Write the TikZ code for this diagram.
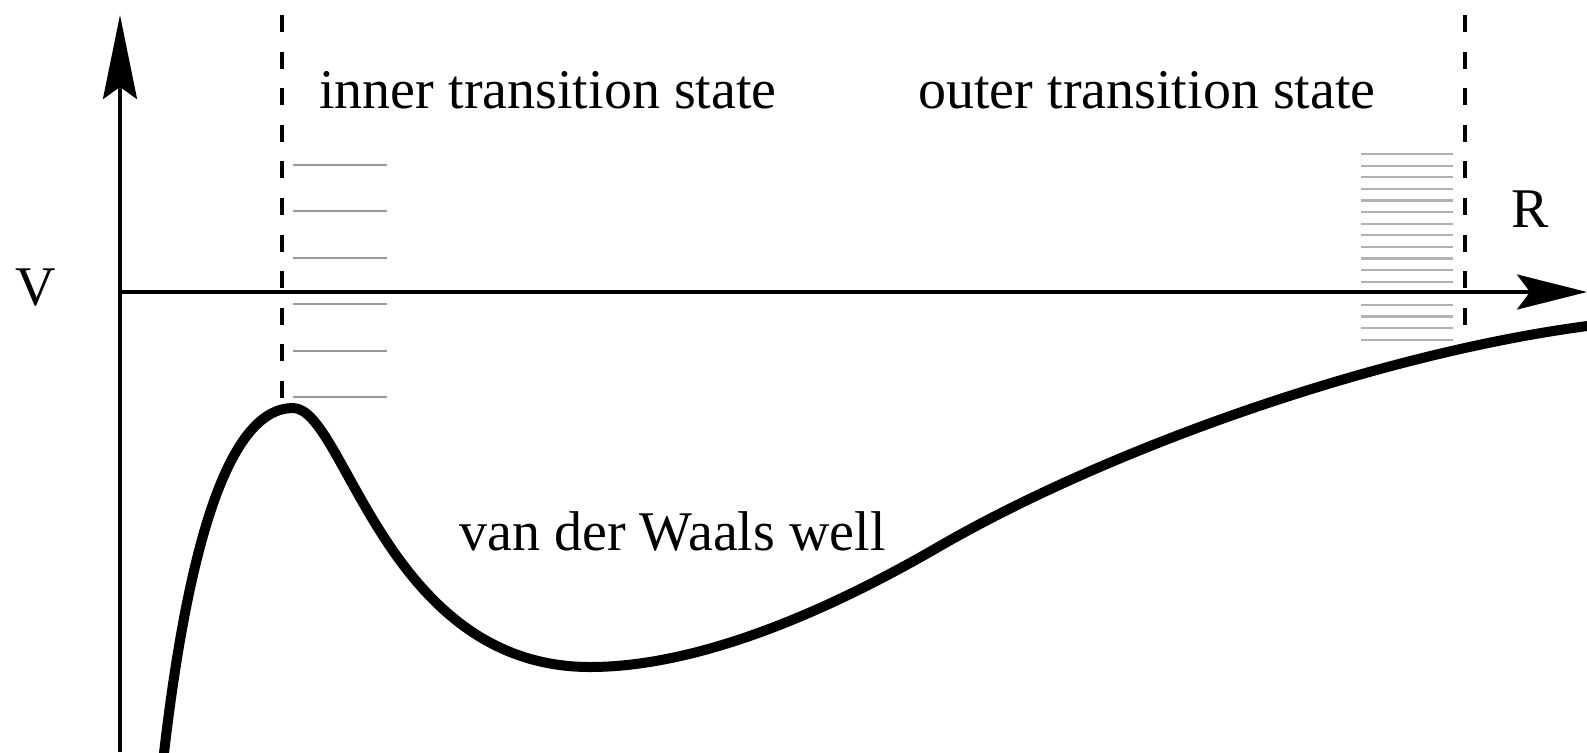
\documentclass[tikz,border=0pt]{standalone}
\usepackage{fontspec}
\setmainfont{Liberation Serif}
\usetikzlibrary{arrows.meta}
\begin{document}
\begin{tikzpicture}[x=0.5pt,y=-0.5pt,
  lbl/.style={inner sep=0pt, anchor=base west, font=\fontsize{28pt}{33pt}\selectfont},
  axis/.style={line width=1.7pt},
  tsline/.style={line width=1.6pt, dash pattern=on 8.5pt off 9.8pt},
  lvl/.style={line width=1pt, black!40},
  outlvl/.style={line width=1.1pt, black!30},
  pot/.style={line width=5pt, line join=round}]
\useasboundingbox (0,0) rectangle (1587,752);
% energy levels
\foreach \k in {0,...,5}
  \draw[lvl] (293,{165+46.4*\k}) -- (387,{165+46.4*\k});
\foreach \k in {0,...,16}
  \draw[outlvl] (1361,{154+11.6*\k}) -- (1453,{154+11.6*\k});
% transition state dividing lines
\coordinate (itop) at (282,15);
\coordinate (ibot) at (282,403);
\coordinate (otop) at (1465,15);
\coordinate (obot) at (1465,333);
\draw[tsline] (itop) -- (ibot);
\draw[tsline] (otop) -- (obot);
% axes
\coordinate (o) at (120,292);
\coordinate (ytip) at (120,15);
\coordinate (ybot) at (120,752);
\coordinate (xtip) at (1587,292);
\draw[axis, -{Stealth[length=42pt,width=17pt,inset=6pt]}] (ybot) -- (ytip);
\draw[axis, -{Stealth[length=35pt,width=17.5pt,inset=6.5pt]}] (o) -- (xtip);
% potential curve
\coordinate (cstart) at (163,762);
\coordinate (cpeak) at (293,408);
\coordinate (cmin) at (590,667);
\coordinate (cinfl) at (940,546);
\coordinate (cend) at (1595,325);
\draw[pot] (cstart) .. controls (188,540) and (230,408) .. (cpeak)
  .. controls (345,408) and (385,667) .. (cmin)
  .. controls (700,667) and (830,610) .. (cinfl)
  .. controls (1110,448) and (1380,352) .. (cend);
% labels
\node[lbl] (vlab) at (15,305) {V};
\node[lbl] (rlab) at (1511,227) {R};
\node[lbl] (inner) at (319,108) {inner transition state};
\node[lbl] (outer) at (918,108) {outer transition state};
\node[lbl] (well) at (459,550) {van der Waals well};
\end{tikzpicture}
\end{document}
